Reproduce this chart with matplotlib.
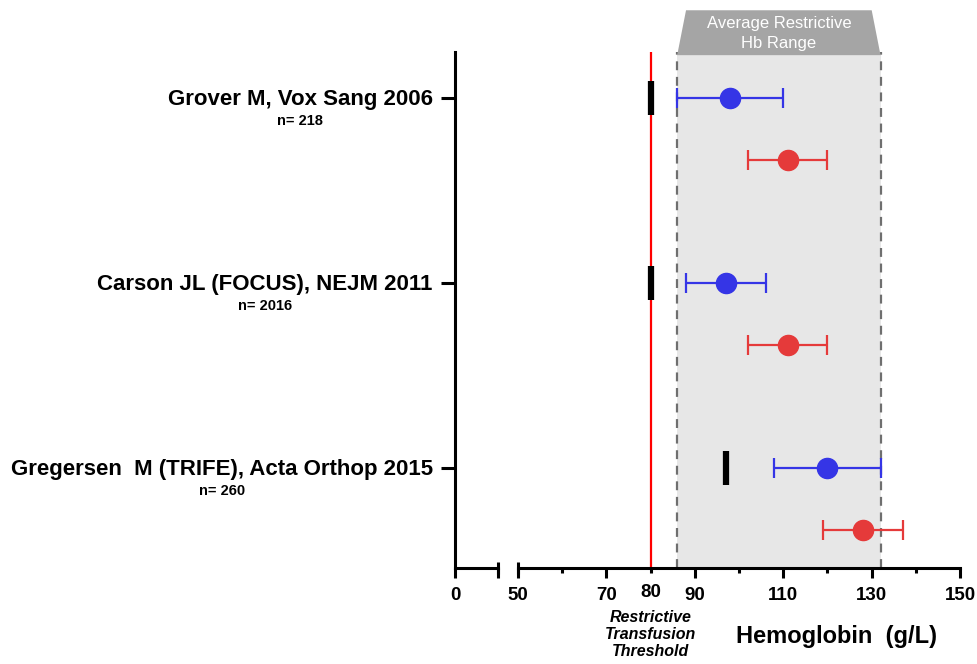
import matplotlib.pyplot as plt
import matplotlib.transforms as mtransforms
from matplotlib.patches import Polygon

plt.rcParams['font.family'] = ['Liberation Sans', 'DejaVu Sans']

# data
studies = ["Grover M, Vox Sang 2006", "Carson JL (FOCUS), NEJM 2011",
           "Gregersen  M (TRIFE), Acta Orthop 2015"]
n_labels = ["n= 218", "n= 2016", "n= 260"]
restrictive_mean = [98, 97, 120]
restrictive_lo = [86, 88, 108]
restrictive_hi = [110, 106, 132]
liberal_mean = [111, 111, 128]
liberal_lo = [102, 102, 119]
liberal_hi = [120, 120, 137]
study_threshold = [80, 80, 97]
range_lo, range_hi = 86, 132
threshold = 80
major_ticks = [50, 70, 90, 110, 130, 150]
minor_ticks = [60, 80, 100, 120, 140]

blue = '#3535e6'
red = '#e53a3a'

fig = plt.figure(figsize=(9.78, 6.64), dpi=100)
bottom, height = 0.1446, 0.777
axl = fig.add_axes([0.4652, bottom, 0.044, height])
ax = fig.add_axes([0.5297, bottom, 0.452, height], sharey=axl)

# row positions (top study first)
base = [2, 1, 0]
y_blue = [b + 0.54 for b in base]
y_red = [b + 0.205 for b in base]
axl.set_ylim(0, 2.79)

# shaded range + dashed bounds
ax.axvspan(range_lo, range_hi, color='#e7e7e7', zorder=0, lw=0)
for v in (range_lo, range_hi):
    ax.axvline(v, color='#6f6f6f', lw=1.6, ls=(0, (4, 3)), zorder=1)
ax.axvline(threshold, color='red', lw=1.6, zorder=2)

# trapezoid header
trans = mtransforms.blended_transform_factory(ax.transData, ax.transAxes)
trap = Polygon([(range_lo, 0.994), (range_lo + 2, 1.081), (range_hi - 2, 1.081), (range_hi, 0.994)],
               closed=True, transform=trans, facecolor='#a5a5a5', edgecolor='none', clip_on=False)
ax.add_patch(trap)
ax.text((range_lo + range_hi) / 2, 1.036, "Average Restrictive\nHb Range", transform=trans,
        ha='center', va='center', color='white', fontsize=12, linespacing=1.45)

# error bars
for m, lo, hi, y, c in zip(restrictive_mean + liberal_mean, restrictive_lo + liberal_lo,
                           restrictive_hi + liberal_hi, y_blue + y_red,
                           [blue] * 3 + [red] * 3):
    ax.errorbar(m, y, xerr=[[m - lo], [hi - m]], fmt='o', color=c, ms=14.5,
                elinewidth=1.6, capsize=7, capthick=1.6, zorder=4)

ax.plot(study_threshold, y_blue, ls='none', marker='|', color='black', ms=25, mew=4.5, zorder=3)

# axes styling
ax.set_xlim(50, 150)
axl.set_xlim(0, 10)
for a in (ax, axl):
    a.spines['top'].set_visible(False)
    a.spines['right'].set_visible(False)
    a.spines['bottom'].set_linewidth(2.2)
    a.tick_params(axis='x', which='major', length=7.5, width=2.2, labelsize=13.5, pad=6)
    a.tick_params(axis='x', which='minor', length=3.8, width=2.2)
    a.set_facecolor('none')
ax.spines['left'].set_visible(False)
ax.tick_params(axis='y', left=False, labelleft=False)
axl.spines['left'].set_linewidth(2.2)
axl.tick_params(axis='y', length=10, width=2.2)
axl.set_yticks(y_blue)
axl.set_yticklabels([])

ax.set_xticks(major_ticks)
ax.set_xticks(minor_ticks, minor=True)
ax.set_xticklabels([str(t) for t in major_ticks], fontweight='bold')
axl.set_xticks([0, 10])
axl.set_xticklabels(['0', ''], fontweight='bold')

# break caps
for a, xpos in ((axl, 1), (ax, 0)):
    a.plot([xpos, xpos], [-0.012, 0.012], color='black', lw=2.2, transform=a.transAxes,
           clip_on=False, solid_capstyle='butt')

# study labels
for s, n, y in zip(studies, n_labels, y_blue):
    t = axl.annotate(s, xy=(0, y), xycoords=('axes fraction', 'data'), xytext=(-16, -1),
                     textcoords='offset points', ha='right', va='center',
                     fontsize=16, fontweight='bold')
    axl.annotate(n, xy=(0.5, 0), xycoords=t, xytext=(0, -3), textcoords='offset points',
                 ha='center', va='top', fontsize=10.5, fontweight='bold')

# threshold labels
ax.annotate(str(threshold), xy=(threshold, 0), xycoords=trans, xytext=(0, -18),
            textcoords='offset points', ha='center', va='center', fontsize=13.5, fontweight='bold')
ax.annotate("Restrictive\nTransfusion\nThreshold", xy=(threshold, 0), xycoords=trans,
            xytext=(0, -30), textcoords='offset points', ha='center', va='top',
            fontsize=11.5, fontweight='bold', style='italic', linespacing=1.2)
ax.annotate("Hemoglobin  (g/L)", xy=(0.72, 0), xycoords='axes fraction', xytext=(0, -49),
            textcoords='offset points', ha='center', va='center', fontsize=17, fontweight='bold')

fig.savefig('out.png', dpi=100)
